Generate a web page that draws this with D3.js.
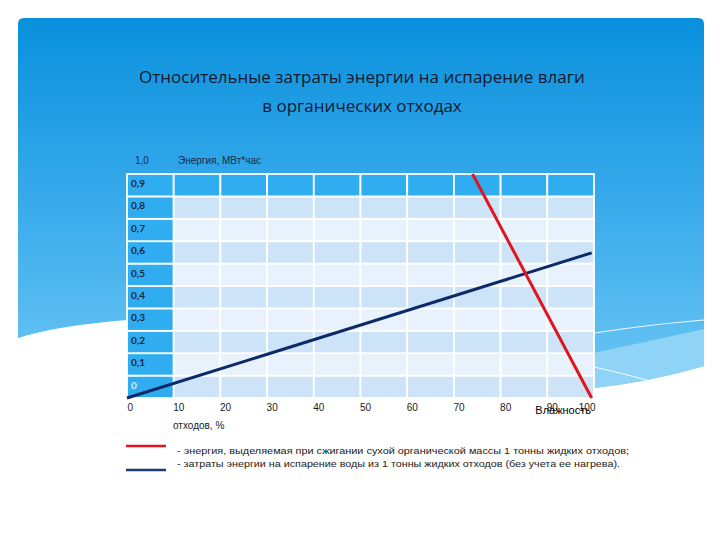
<!DOCTYPE html>
<html><head><meta charset="utf-8">
<script src="https://cdn.jsdelivr.net/npm/d3@7"></script>
<style>html,body{margin:0;padding:0;background:#fff;}svg{display:block;}</style>
</head><body>
<script>
// ---- data ----
const titleLines = ["Относительные затраты энергии на испарение влаги", "в органических отходах"];
const xTicks = [0, 10, 20, 30, 40, 50, 60, 70, 80, 90, 100];
const rowStarts = [0, 0.1, 0.2, 0.3, 0.4, 0.5, 0.6, 0.7, 0.8, 0.9];
const rowLabels = ["0", "0,1", "0,2", "0,3", "0,4", "0,5", "0,6", "0,7", "0,8", "0,9"];
const colStarts = [0, 10, 20, 30, 40, 50, 60, 70, 80, 90];
// red: energy released by burning dry organic mass (MWh per tonne)
const combustMoisture = [74, 99.5];
const combustEnergy = [1.0, 0];
// blue: energy for water evaporation (MWh per tonne)
const evapMoisture = [0, 99.5];
const evapEnergy = [0, 0.648];
const legendTexts = [
  "- энергия, выделяемая при сжигании сухой органической массы 1 тонны жидких отходов;",
  "- затраты энергии на испарение воды из 1 тонны жидких отходов (без учета ее нагрева)."
];

const W = 720, H = 540;
const svg = d3.select("body").append("svg").attr("width", W).attr("height", H);
const defs = svg.append("defs");
const g1 = defs.append("linearGradient").attr("id", "bg").attr("gradientUnits", "userSpaceOnUse")
  .attr("x1", 0).attr("y1", 18).attr("x2", 0).attr("y2", 390);
g1.append("stop").attr("offset", "0%").attr("stop-color", "#0990dc");
g1.append("stop").attr("offset", "45%").attr("stop-color", "#34a8ea");
g1.append("stop").attr("offset", "100%").attr("stop-color", "#6cc6f4");

// background panel
svg.append("path")
  .attr("d", "M18,24 Q18,18 24,18 L698,18 Q704,18 704,24 L704,366 Q650,382 594,388 L400,390 L127,320 Q55,326 18,338 Z")
  .attr("fill", "url(#bg)");
// lighter wave band (right side)
svg.append("path")
  .attr("d", "M540,364 Q600,352 704,329 L704,366 Q650,382 594,388 L540,390 Z")
  .attr("fill", "#8fd3f7");
svg.append("path")
  .attr("d", "M540,342 Q630,326 704,320")
  .attr("fill", "none").attr("stroke", "#eef9ff").attr("stroke-width", 1.2);
svg.append("path")
  .attr("d", "M560,360 L594,367 Q625,374 650,381")
  .attr("fill", "none").attr("stroke", "#eef9ff").attr("stroke-width", 1.2);

// title
svg.append("g").selectAll("text").data(titleLines).join("text")
  .attr("x", 362).attr("y", (d, i) => 83 + i * 29)
  .attr("text-anchor", "middle")
  .attr("font-family", "Open Sans, sans-serif").attr("font-size", 17)
  .attr("fill", "#111a33")
  .text(d => d);

// scales
const x = d3.scaleLinear().domain([0, 100]).range([127, 594]);
const y = d3.scaleLinear().domain([0, 1]).range([398, 174]);

// table cells
const cells = [];
rowStarts.forEach((r, ri) => colStarts.forEach((c, ci) => cells.push({r, ri, c, ci})));
svg.append("g").selectAll("rect").data(cells).join("rect")
  .attr("x", d => x(d.c)).attr("y", d => y(d.r + 0.1))
  .attr("width", d => x(d.c + 10) - x(d.c)).attr("height", d => y(d.r) - y(d.r + 0.1))
  .attr("fill", d => (d.ri === 9 || d.ci === 0) ? "#2fadf0" : (d.ri % 2 === 0 ? "#cde3f7" : "#e7f2fc"))
  .attr("stroke", "#ffffff").attr("stroke-width", 1.8);

// row labels
svg.append("g").selectAll("text").data(rowStarts).join("text")
  .attr("x", x(0) + 4).attr("y", d => y(d + 0.1) + 13)
  .attr("font-family", "Lato, sans-serif").attr("font-size", 10).attr("font-weight", "bold")
  .attr("fill", (d, i) => i === 0 ? "#d8f4ff" : "#1b2740")
  .text((d, i) => rowLabels[i]);

// y-axis top label and title
svg.append("text").attr("x", 135).attr("y", 164)
  .attr("font-family", "Liberation Sans, Arial, sans-serif").attr("font-size", 10).attr("fill", "#1b2a48").text("1,0");
svg.append("text").attr("x", 178).attr("y", 164)
  .attr("font-family", "Liberation Sans, Arial, sans-serif").attr("font-size", 10).attr("fill", "#1b2a48").text("Энергия, МВт*час");

// x axis
const xAxis = d3.axisBottom(x).tickValues(xTicks).tickSize(0).tickPadding(0);
const ax = svg.append("g").attr("transform", "translate(0,398)").call(xAxis);
ax.select(".domain").remove();
ax.selectAll("text")
  .attr("font-family", "Liberation Sans, Arial, sans-serif").attr("font-size", 10).attr("fill", "#1a1a1a")
  .attr("dy", 13)
  .attr("text-anchor", d => d === 100 ? "end" : "start")
  .attr("dx", d => d === 100 ? 1 : (d === 0 ? 0 : -1));

svg.append("text").attr("x", 173).attr("y", 429)
  .attr("font-family", "Liberation Sans, Arial, sans-serif").attr("font-size", 10).attr("fill", "#1a1a1a").text("отходов, %");
svg.append("text").attr("x", 591).attr("y", 414).attr("text-anchor", "end")
  .attr("font-family", "Liberation Sans, Arial, sans-serif").attr("font-size", 11).attr("fill", "#000").text("Влажность");

// lines
const line = d3.line().x(d => x(d[0])).y(d => y(d[1]));
svg.append("path").datum(evapMoisture.map((m, i) => [m, evapEnergy[i]]))
  .attr("d", line).attr("fill", "none").attr("stroke", "#0c2a68").attr("stroke-width", 3);
svg.append("path").datum(combustMoisture.map((m, i) => [m, combustEnergy[i]]))
  .attr("d", line).attr("fill", "none").attr("stroke", "#e0151f").attr("stroke-width", 3);

// legend
const legendColors = ["#e0151f", "#1a3a78"];
const legendLineY = [446, 470];
svg.append("g").selectAll("line").data(legendColors).join("line")
  .attr("x1", 126).attr("x2", 166).attr("y1", (d, i) => legendLineY[i]).attr("y2", (d, i) => legendLineY[i])
  .attr("stroke", d => d).attr("stroke-width", 2.5);
svg.append("g").selectAll("text").data(legendTexts).join("text")
  .attr("x", 177).attr("y", (d, i) => 454 + i * 13)
  .attr("font-family", "Liberation Sans, Arial, sans-serif").attr("font-size", 9.5).attr("fill", "#222")
  .attr("textLength", (d, i) => i === 0 ? 452 : 443).attr("lengthAdjust", "spacingAndGlyphs")
  .text(d => d);
</script>
</body></html>
